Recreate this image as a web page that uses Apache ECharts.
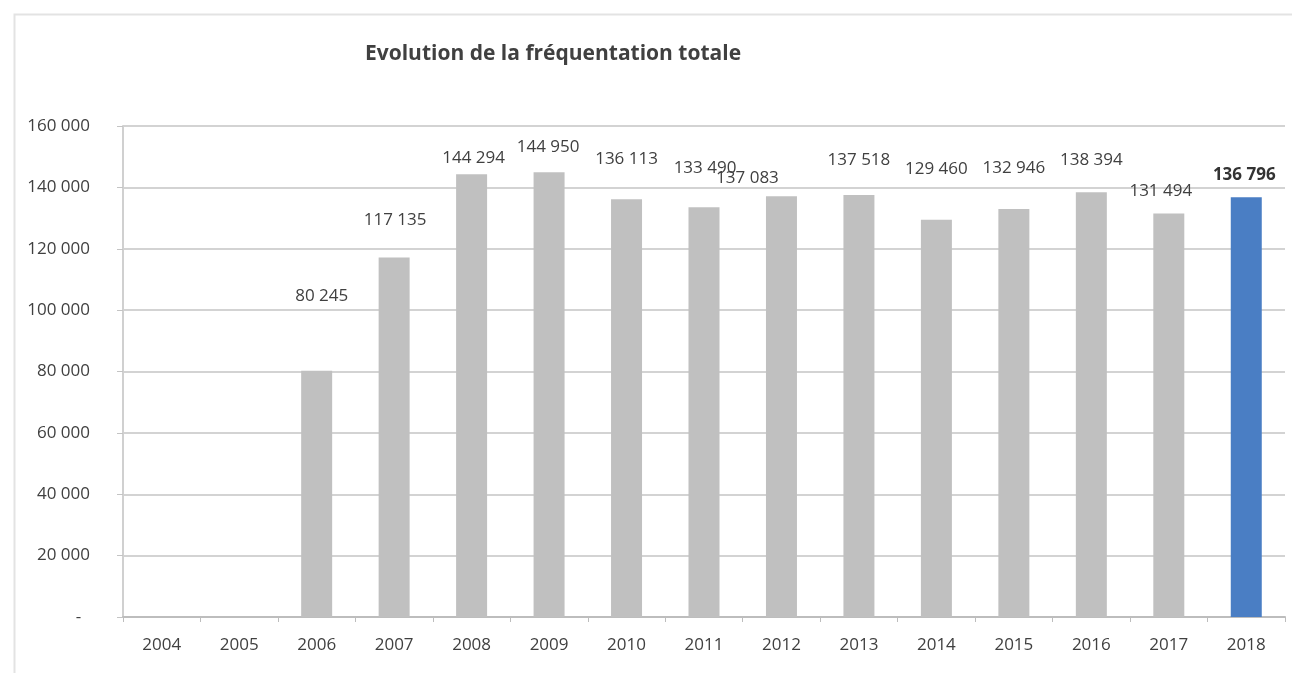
<!DOCTYPE html>
<html><head><meta charset="utf-8">
<script src="https://cdn.jsdelivr.net/npm/echarts@6/dist/echarts.min.js"></script>
<style>html,body{margin:0;padding:0;background:#fff}#c{width:1292px;height:673px}</style>
</head><body><div id="c"></div>
<script>
const categories = ['2004','2005','2006','2007','2008','2009','2010','2011','2012','2013','2014','2015','2016','2017','2018'];
const visitors = [null, null, 80245, 117135, 144294, 144950, 136113, 133490, 137083, 137518, 129460, 132946, 138394, 131494, 136796];
const yTicks = [0, 20000, 40000, 60000, 80000, 100000, 120000, 140000, 160000];
// label placement tweaks (style only)
const labelOffsets = [[0,0],[0,0],[5,-61],[1,-24],[2,-3],[-1,-12],[0,-27],[1,-26],[-34,-5],[0,-21],[0,-37],[0,-27],[0,-19],[-8,-9],[-2,-9]];

function fmt(v){
  if (v === 0) return '-\u00a0\u00a0';
  return String(v).replace(/\B(?=(\d{3})+(?!\d))/g, ' ');
}
const last = categories.length - 1;
const data = visitors.map((v, i) => ({
  value: v,
  itemStyle: { color: i === last ? '#4a7ec4' : '#c0c0c0' },
  label: {
    offset: labelOffsets[i],
    fontWeight: i === last ? 'bold' : 'normal',
    color: i === last ? '#333' : '#404040'
  }
}));

const chart = echarts.init(document.getElementById('c'));
chart.setOption({
  animation: false,
  backgroundColor: '#fff',
  graphic: [{
    type: 'rect', left: 12, top: 12,
    shape: { width: 1300, height: 680 },
    style: { fill: 'none', stroke: '#e3e3e3', lineWidth: 2 }
  }],
  title: {
    text: 'Evolution de la fréquentation totale',
    left: 360, top: 39,
    textStyle: { fontFamily: 'Open Sans', fontSize: 21, fontWeight: 'bold', color: '#404040' }
  },
  grid: { left: 123, right: 7, top: 126, bottom: 56 },
  xAxis: {
    type: 'category',
    data: categories,
    axisLine: { lineStyle: { color: '#bdbdbd', width: 2 } },
    axisTick: { show: true, alignWithLabel: false, length: 5, lineStyle: { color: '#bdbdbd' } },
    axisLabel: { color: '#404040', fontFamily: 'Open Sans', fontSize: 17, margin: 20 }
  },
  yAxis: {
    type: 'value',
    min: 0, max: 160000, interval: 20000,
    axisLine: { show: true, lineStyle: { color: '#d0d0d0', width: 2 } },
    axisTick: { show: true, length: 6, lineStyle: { color: '#c4c4c4' } },
    axisLabel: {
      color: '#404040', fontFamily: 'Open Sans', fontSize: 17, margin: 33,
      formatter: v => yTicks.includes(v) ? fmt(v) : ''
    },
    splitLine: { lineStyle: { color: '#c4c4c4', width: 1.5 } }
  },
  series: [{
    type: 'bar',
    data: data,
    barWidth: 31,
    label: {
      show: true, position: 'top', distance: 5,
      fontFamily: 'Open Sans', fontSize: 17,
      formatter: p => fmt(p.value)
    }
  }]
});
</script></body></html>
